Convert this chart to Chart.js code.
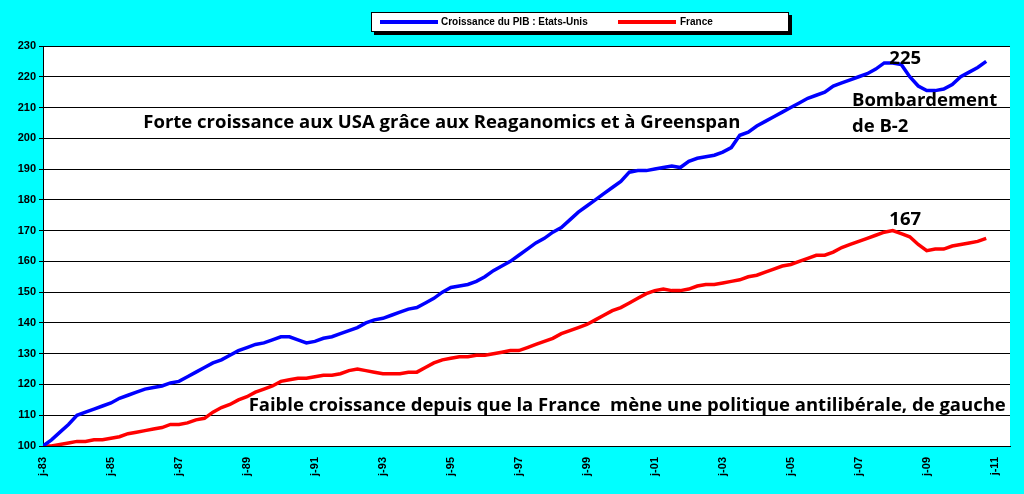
<!DOCTYPE html>
<html>
<head>
<meta charset="utf-8">
<script src="https://cdn.jsdelivr.net/npm/chart.js@4/dist/chart.umd.min.js"></script>
<style>
  html, body { margin: 0; padding: 0; background: #00ffff; }
  #wrap { width: 1024px; height: 494px; }
</style>
</head>
<body>
<div id="wrap"><canvas id="pibChart"></canvas></div>
<script>
// quarterly values, 1983 Q1 -> 2010 Q4
const startYear = 1983;
const usaValues = [
  100,102,104.5,107, 110,111,112,113, 114,115.5,116.5,117.5, 118.5,119,119.5,120.5,
  121,122.5,124,125.5, 127,128,129.5,131, 132,133,133.5,134.5, 135.5,135.5,134.5,133.5,
  134,135,135.5,136.5, 137.5,138.5,140,141, 141.5,142.5,143.5,144.5, 145,146.5,148,150,
  151.5,152,152.5,153.5, 155,157,158.5,160, 162,164,166,167.5, 169.5,171,173.5,176,
  178,180,182,184, 186,189,189.5,189.5, 190,190.5,191,190.5, 192.5,193.5,194,194.5,
  195.5,197,201,202, 204,205.5,207,208.5, 210,211.5,213,214, 215,217,218,219,
  220,221,222.5,224.5, 224.5,224,220,217, 215.5,215.5,216,217.5, 220,221.5,223,225
];
const franceValues = [
  100,100,100.5,101, 101.5,101.5,102,102, 102.5,103,104,104.5, 105,105.5,106,107,
  107,107.5,108.5,109, 111,112.5,113.5,115, 116,117.5,118.5,119.5, 121,121.5,122,122,
  122.5,123,123,123.5, 124.5,125,124.5,124, 123.5,123.5,123.5,124, 124,125.5,127,128,
  128.5,129,129,129.5, 129.5,130,130.5,131, 131,132,133,134, 135,136.5,137.5,138.5,
  139.5,141,142.5,144, 145,146.5,148,149.5, 150.5,151,150.5,150.5, 151,152,152.5,152.5,
  153,153.5,154,155, 155.5,156.5,157.5,158.5, 159,160,161,162, 162,163,164.5,165.5,
  166.5,167.5,168.5,169.5, 170,169,168,165.5, 163.5,164,164,165, 165.5,166,166.5,167.5
];
const seriesLabels = ['Croissance du PIB : Etats-Unis', 'France'];
const tickYears = [1983,1985,1987,1989,1991,1993,1995,1997,1999,2001,2003,2005,2007,2009,2011];

const toPoints = vals => vals.map((v, i) => ({ x: startYear + i / 4, y: v }));

const overlay = {
  id: 'overlay',
  afterDraw(chart) {
    const ctx = chart.ctx;
    const x = chart.scales.x, y = chart.scales.y;
    ctx.save();
    // legend box
    ctx.fillStyle = '#000';
    ctx.fillRect(374, 15, 418, 20);
    ctx.fillStyle = '#fff';
    ctx.fillRect(371, 12, 418, 20);
    ctx.strokeStyle = '#000';
    ctx.lineWidth = 1;
    ctx.strokeRect(371.5, 12.5, 417, 19);
    ctx.lineWidth = 4;
    ctx.strokeStyle = '#0000ff';
    ctx.beginPath(); ctx.moveTo(380, 22); ctx.lineTo(438, 22); ctx.stroke();
    ctx.strokeStyle = '#ff0000';
    ctx.beginPath(); ctx.moveTo(618, 22); ctx.lineTo(676, 22); ctx.stroke();
    ctx.fillStyle = '#000';
    ctx.font = 'bold 10px "Liberation Sans", Arial';
    ctx.textBaseline = 'middle';
    ctx.fillText(seriesLabels[0], 441, 22);
    ctx.fillText(seriesLabels[1], 680, 22);

    // annotations
    ctx.font = 'bold 18.5px "Open Sans", Lato, sans-serif';
    ctx.textBaseline = 'middle';
    ctx.fillStyle = '#000';
    ctx.fillText('Forte croissance aux USA grâce aux Reaganomics et à Greenspan', x.getPixelForValue(1985.95), y.getPixelForValue(205));
    ctx.fillText('Faible croissance depuis que la France  mène une politique antilibérale, de gauche', x.getPixelForValue(1989.05), y.getPixelForValue(113));
    ctx.fillText('225', x.getPixelForValue(2007.9), y.getPixelForValue(226));
    ctx.fillText('Bombardement', x.getPixelForValue(2006.8), y.getPixelForValue(212.3));
    ctx.fillText('de B-2', x.getPixelForValue(2006.8), y.getPixelForValue(203.6));
    ctx.fillText('167', x.getPixelForValue(2007.9), y.getPixelForValue(173.6));
    ctx.restore();
  }
};

new Chart(document.getElementById('pibChart').getContext('2d'), {
  type: 'line',
  data: {
    datasets: [
      { label: seriesLabels[0], data: toPoints(usaValues), borderColor: '#0000ff', borderWidth: 3.5, pointRadius: 0, tension: 0 },
      { label: seriesLabels[1], data: toPoints(franceValues), borderColor: '#ff0000', borderWidth: 3.5, pointRadius: 0, tension: 0 }
    ]
  },
  options: {
    responsive: true,
    maintainAspectRatio: false,
    animation: false,
    layout: { padding: { top: 46, right: 14, left: 0, bottom: 0 } },
    plugins: { legend: { display: false }, tooltip: { enabled: false } },
    scales: {
      x: {
        type: 'linear',
        min: 1983,
        max: 2011.45,
        afterFit: s => { s.height = 48; },
        grid: { display: false, drawTicks: true },
        border: { color: '#000', width: 1 },
        ticks: {
          autoSkip: false,
          minRotation: 90,
          maxRotation: 90,
          color: '#000',
          font: { size: 11, weight: 'bold', family: '"Liberation Sans", Arial' },
          callback: v => 'j-' + String(Math.round(v) % 100).padStart(2, '0')
        },
        afterBuildTicks: s => { s.ticks = tickYears.map(v => ({ value: v })); }
      },
      y: {
        min: 100,
        max: 230,
        afterFit: s => { s.width = 43; },
        border: { color: '#000', width: 1 },
        grid: { color: '#000', lineWidth: 1, tickLength: 4 },
        ticks: { stepSize: 10, color: '#000', font: { size: 11, weight: 'bold', family: '"Liberation Sans", Arial' } }
      }
    }
  },
  plugins: [{
    id: 'plotBg',
    beforeDraw(chart) {
      const { ctx, chartArea: a } = chart;
      ctx.save();
      ctx.fillStyle = '#fff';
      ctx.fillRect(a.left, a.top, a.right - a.left, a.bottom - a.top);
      ctx.restore();
    }
  }, overlay]
});
</script>
</body>
</html>
